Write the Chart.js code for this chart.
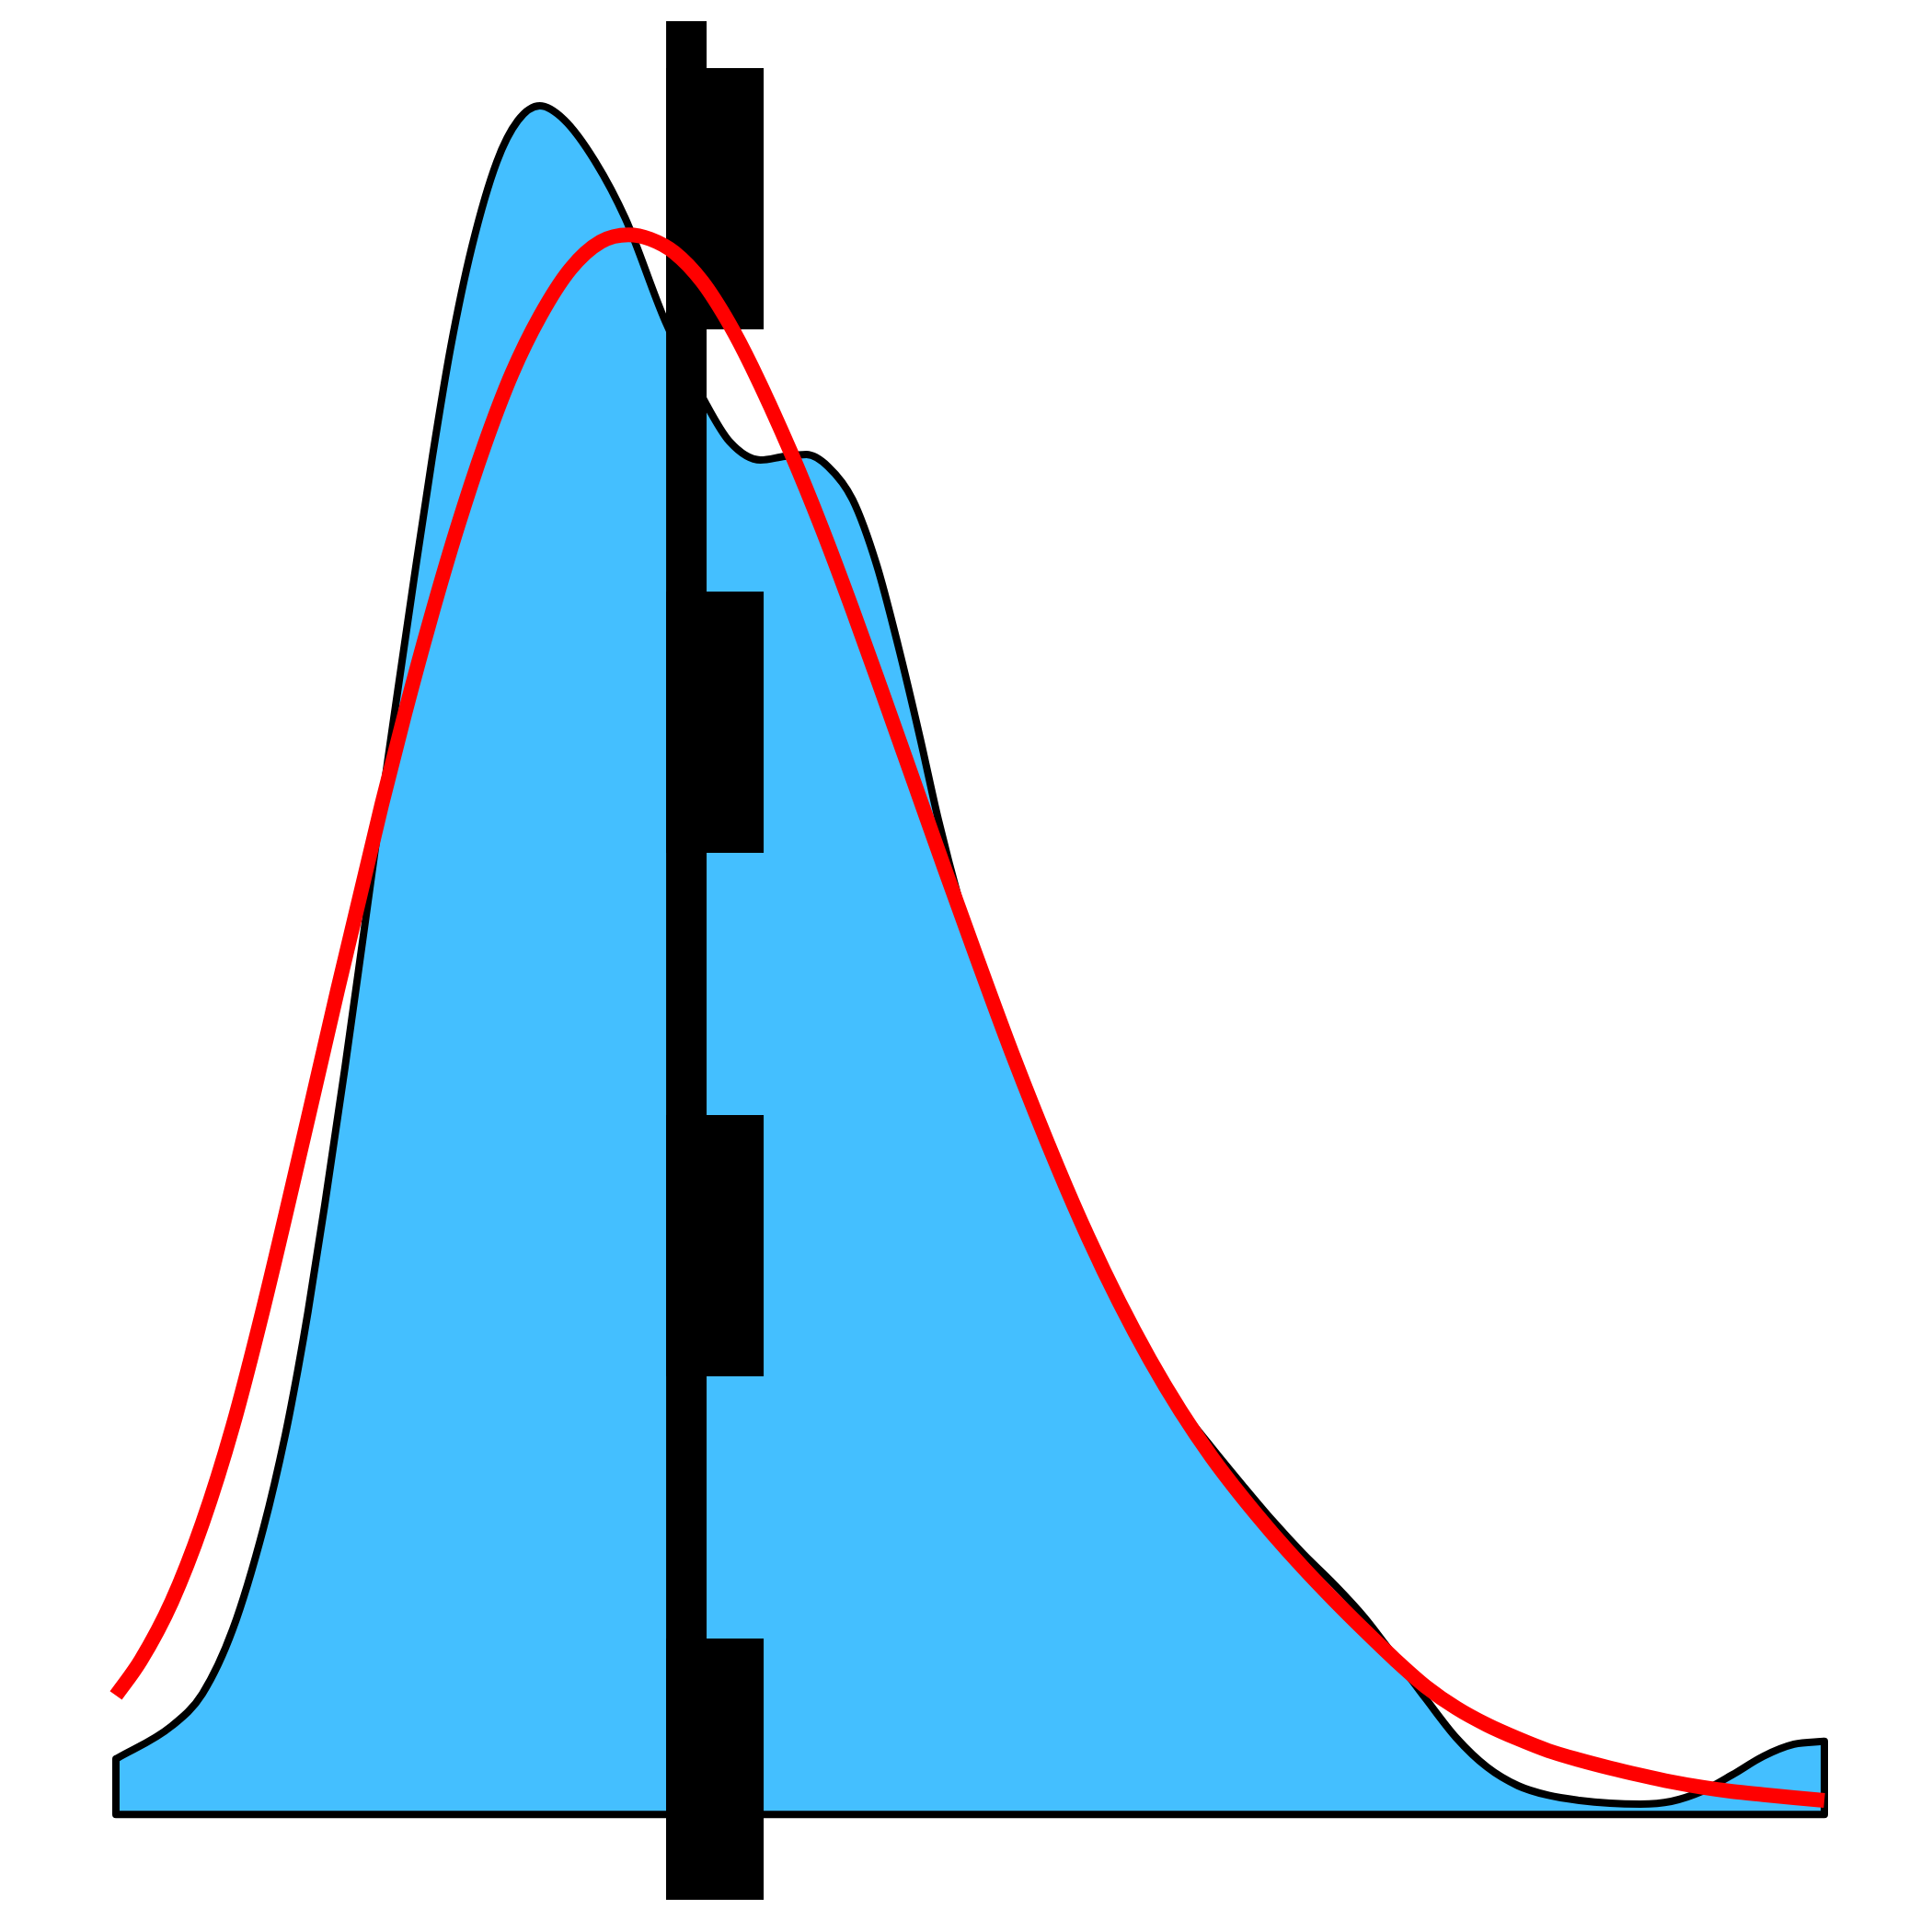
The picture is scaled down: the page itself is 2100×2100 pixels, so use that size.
<!DOCTYPE html>
<html>
<head>
<meta charset="utf-8">
<script src="https://cdn.jsdelivr.net/npm/chart.js@4.4.1/dist/chart.umd.min.js"></script>
<style>
  html, body { margin: 0; padding: 0; background: #ffffff; }
  #wrap { width: 2100px; height: 2100px; }
</style>
</head>
<body>
<div id="wrap"><canvas id="kde_chart" width="2100" height="2100"></canvas></div>
<script>
// kde of the sample (black outline, blue fill)
var kde_x = [0.0, 0.327, 0.506, 0.684, 0.865, 0.991, 1.066, 1.125, 1.222, 1.341,
             1.449, 1.556, 1.637, 1.745, 1.852, 1.960, 2.084, 2.229, 2.353, 2.481,
             2.623, 2.804, 2.983, 3.215, 3.457, 3.592, 3.773, 3.915, 4.042, 4.168,
             4.312, 4.453, 4.581, 4.707, 4.814, 4.938, 5.030, 5.245, 5.514, 5.692,
             5.873, 6.053, 6.231, 6.412, 6.593, 6.771, 6.950, 7.130, 7.308, 7.485,
             7.668, 7.846, 8.027, 8.207, 8.385, 8.566, 8.745, 8.923, 9.104, 9.284,
             9.462, 9.643, 9.822, 10.0];
var kde_y = [0.0649, 0.1036, 0.1413, 0.2168, 0.3364, 0.4441, 0.5217, 0.5895, 0.7134, 0.8750,
             1.0302, 1.1853, 1.2984, 1.4471, 1.5893, 1.7186, 1.8360, 1.9351, 1.9836, 2.0009,
             1.9847, 1.9362, 1.8684, 1.7488, 1.6507, 1.6076, 1.5861, 1.5904, 1.5925, 1.5785,
             1.5398, 1.4633, 1.3667, 1.2607, 1.1648, 1.0690, 1.0081, 0.8917, 0.7571, 0.6753,
             0.5998, 0.5323, 0.4764, 0.4301, 0.3859, 0.3439, 0.3051, 0.2696, 0.2308, 0.1844,
             0.1352, 0.0896, 0.0552, 0.0336, 0.0223, 0.0164, 0.0131, 0.0121, 0.0153, 0.0271,
             0.0465, 0.0681, 0.0821, 0.0856];

// fitted density (red)
var fit_x = [0.0, 0.145, 0.327, 0.506, 0.684, 0.865, 1.125, 1.296, 1.556, 1.691,
             1.835, 1.996, 2.158, 2.319, 2.481, 2.660, 2.838, 3.000, 3.127, 3.269,
             3.431, 3.592, 3.719, 3.953, 4.131, 4.312, 4.491, 4.669, 4.850, 5.030,
             5.245, 5.514, 5.692, 5.873, 6.053, 6.231, 6.412, 6.593, 6.771, 6.950,
             7.130, 7.308, 7.485, 7.668, 7.846, 8.027, 8.207, 8.385, 8.566, 8.745,
             8.923, 9.104, 9.284, 9.462, 9.643, 9.822, 10.0];
var fit_y = [0.1392, 0.1802, 0.2492, 0.3407, 0.4544, 0.5943, 0.8155, 0.9640, 1.1826, 1.2889,
             1.3954, 1.5053, 1.6039, 1.6879, 1.7541, 1.8097, 1.8417, 1.8498, 1.8448, 1.8291,
             1.7952, 1.7451, 1.6966, 1.5939, 1.5068, 1.4106, 1.3108, 1.2102, 1.1078, 1.0081,
             0.8917, 0.7571, 0.6753, 0.5998, 0.5323, 0.4726, 0.4189, 0.3715, 0.3288, 0.2888,
             0.2511, 0.2156, 0.1817, 0.1495, 0.1246, 0.1047, 0.0886, 0.0746, 0.0638, 0.0544,
             0.0460, 0.0382, 0.0318, 0.0268, 0.0231, 0.0196, 0.0164];

// vertical markers
var mark_x = 3.339;        // solid line
var mark_dash_x = 3.506;   // wide dashed line
var mark_y = [-0.1, 2.1];
var mark_dash_y = [2.045, -0.1];

var x_range = [0, 10];
var y_range = [-0.1, 2.1];

function pairs(xs, ys){
    var out = [];
    for (var i = 0; i < xs.length; i++){
        out.push({x: xs[i], y: ys[i]});
    }
    return out;
}

var kde_points = pairs(kde_x, kde_y);
var frame_points = [
    {x: kde_x[0], y: kde_y[0]},
    {x: kde_x[0], y: 0},
    {x: kde_x[kde_x.length - 1], y: 0},
    {x: kde_x[kde_x.length - 1], y: kde_y[kde_y.length - 1]}
];

var ctx = document.getElementById('kde_chart');
var chart = new Chart(ctx, {
    type: 'line',
    data: {
        datasets: [
            {
                // red fit on top
                data: pairs(fit_x, fit_y),
                borderColor: '#ff0000',
                borderWidth: 16,
                cubicInterpolationMode: 'monotone',
                fill: false,
                clip: false,
                order: 0
            },
            {
                data: pairs([mark_x, mark_x], mark_y),
                borderColor: '#000000',
                borderWidth: 44,
                tension: 0,
                fill: false,
                order: 1
            },
            {
                data: pairs([mark_dash_x, mark_dash_x], mark_dash_y),
                borderColor: '#000000',
                borderWidth: 106,
                borderDash: [284, 285],
                tension: 0,
                fill: false,
                order: 1
            },
            {
                // edges and bottom of the kde area
                data: frame_points,
                borderColor: '#000000',
                borderWidth: 8,
                borderJoinStyle: 'round',
                borderCapStyle: 'round',
                tension: 0,
                fill: false,
                clip: false,
                order: 2
            },
            {
                data: kde_points,
                borderColor: '#000000',
                backgroundColor: '#44bfff',
                borderWidth: 8,
                cubicInterpolationMode: 'monotone',
                fill: 'origin',
                clip: false,
                order: 3
            }
        ]
    },
    options: {
        responsive: false,
        animation: false,
        devicePixelRatio: 1,
        layout: { padding: { left: 126, right: 117, top: 23, bottom: 35 } },
        elements: { point: { radius: 0, hoverRadius: 0 } },
        plugins: {
            legend: { display: false },
            tooltip: { enabled: false },
            title: { display: false }
        },
        scales: {
            x: { type: 'linear', min: x_range[0], max: x_range[1], display: false },
            y: { type: 'linear', min: y_range[0], max: y_range[1], display: false }
        }
    }
});
</script>
</body>
</html>
